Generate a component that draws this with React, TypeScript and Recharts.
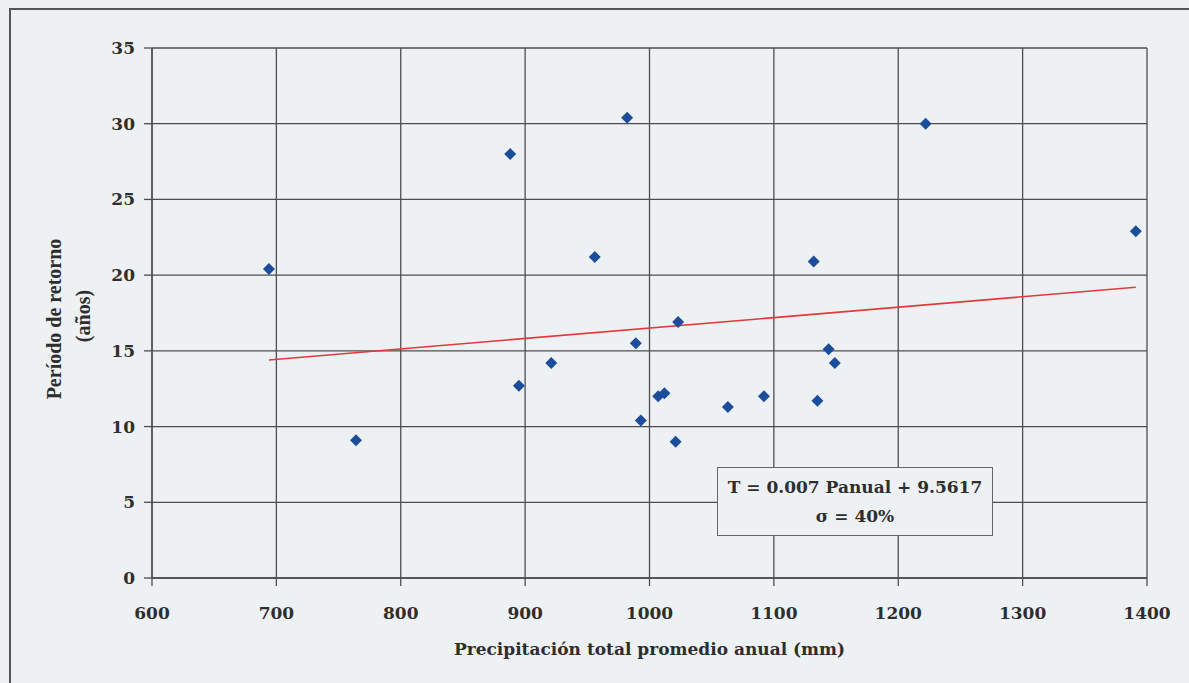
import { ScatterChart, Scatter, XAxis, YAxis, CartesianGrid } from "recharts";

// Precipitación total promedio anual (mm) vs período de retorno (años)
const precip = [694, 764, 888, 895, 921, 956, 982, 989, 993, 1007, 1012, 1021, 1023, 1063, 1092, 1132, 1135, 1144, 1149, 1222, 1391];
const periodo = [20.4, 9.1, 28.0, 12.7, 14.2, 21.2, 30.4, 15.5, 10.4, 12.0, 12.2, 9.0, 16.9, 11.3, 12.0, 20.9, 11.7, 15.1, 14.2, 30.0, 22.9];

// línea de tendencia, extremos
const trendP = [694, 1391];
const trendT = [14.4, 19.2];

const xTicks = [600, 700, 800, 900, 1000, 1100, 1200, 1300, 1400];
const yTicks = [0, 5, 10, 15, 20, 25, 30, 35];

const BG = "#eef1f4";
const GRID = "#4d4d4d";
const TEXT = "#2e2e2e";
const FONT = "'DejaVu Serif', serif";

const points = precip.map((p, i) => ({ p, t: periodo[i] }));
const trend = trendP.map((p, i) => ({ p, t: trendT[i] }));

function Diamond(props: any) {
  const { cx, cy } = props;
  if (cx == null || cy == null) return <g />;
  const r = 6;
  return <path d={`M${cx},${cy - r}L${cx + r},${cy}L${cx},${cy + r}L${cx - r},${cy}Z`} fill="#1b4d9b" />;
}

const tickStyle = { fill: TEXT, fontSize: 17, fontWeight: 700, fontFamily: FONT };

export default function App() {
  return (
    <div style={{ position: "absolute", left: 0, top: 0, width: 1189, height: 683, background: BG, overflow: "hidden" }}>
      <div
        style={{
          position: "absolute",
          left: 9,
          top: 8,
          width: 1189,
          height: 700,
          borderTop: "2px solid #555",
          borderLeft: "2px solid #555",
        }}
      />
      <ScatterChart width={1189} height={683} margin={{ top: 48, right: 42, bottom: 0, left: 0 }}>
        <CartesianGrid stroke={GRID} strokeWidth={1.3} />
        <XAxis
          type="number"
          dataKey="p"
          domain={[600, 1400]}
          ticks={xTicks}
          height={105}
          stroke={GRID}
          strokeWidth={1.3}
          tickSize={8}
          tickMargin={21}
          tick={tickStyle}
          label={{
            content: (props: any) => {
              const vb = props.viewBox || { x: 152, width: 995 };
              return (
                <text x={vb.x + vb.width / 2} y={655} textAnchor="middle" fill={TEXT} fontSize={17} fontWeight={700} fontFamily={FONT}>
                  Precipitación total promedio anual (mm)
                </text>
              );
            },
          }}
        />
        <YAxis
          type="number"
          dataKey="t"
          domain={[0, 35]}
          ticks={yTicks}
          width={152}
          stroke={GRID}
          strokeWidth={1.3}
          tickSize={8}
          tickMargin={9}
          tick={tickStyle}
          label={{
            content: () => (
              <g fill={TEXT} fontWeight={700} fontFamily="'Liberation Serif', serif" fontSize={20}>
                <text x={61} y={319} textAnchor="middle" transform="rotate(-90 61 319)">
                  Período de retorno
                </text>
                <text x={90} y={316} textAnchor="middle" transform="rotate(-90 90 316)">
                  (años)
                </text>
              </g>
            ),
          }}
        />
        <Scatter data={trend} line={{ stroke: "#e03a3a", strokeWidth: 1.6 }} shape={() => <g />} isAnimationActive={false} />
        <Scatter data={points} shape={Diamond} isAnimationActive={false} />
      </ScatterChart>
      <div
        style={{
          position: "absolute",
          left: 717,
          top: 467,
          width: 276,
          height: 69,
          boxSizing: "border-box",
          border: "1px solid #666",
          background: BG,
          paddingTop: 5,
          textAlign: "center",
          fontFamily: FONT,
          fontWeight: 700,
          fontSize: 17,
          lineHeight: "29px",
          color: TEXT,
        }}
      >
        <div>T = 0.007 Panual + 9.5617</div>
        <div>σ = 40%</div>
      </div>
    </div>
  );
}
